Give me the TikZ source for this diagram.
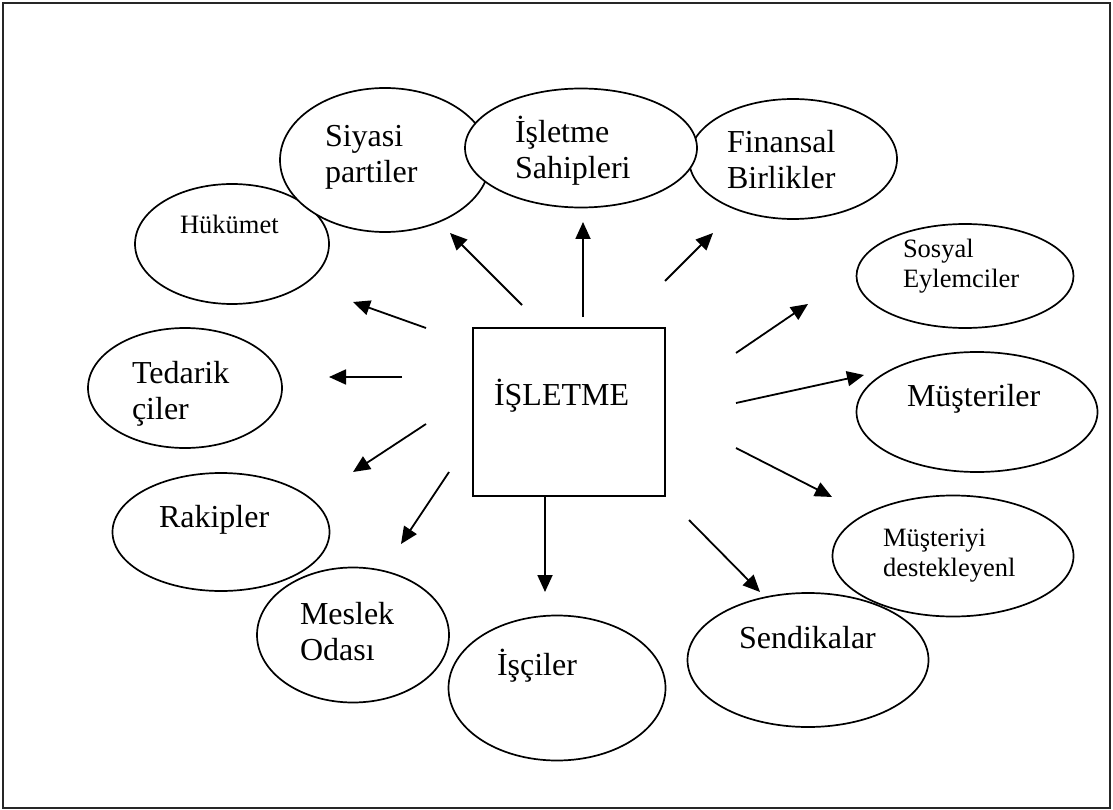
\documentclass[tikz,border=0pt]{standalone}
\usepackage{fontspec}
\setmainfont{Liberation Serif}
\usetikzlibrary{shapes.geometric,arrows.meta}

\newcommand{\bigtxt}{\fontsize{32}{36}\selectfont}
\newcommand{\smalltxt}{\fontsize{26.5}{30}\selectfont}
\newcommand{\twolines}[2]{\begin{tabular}[t]{@{}l@{}}#1\\#2\end{tabular}}

\tikzset{
  ell/.style={ellipse, draw=black, fill=white, line width=1.7pt, inner sep=0pt},
  lbl/.style={anchor=base west, inner sep=0pt, outer sep=0pt},
  arr/.style={line width=1.8pt, -{Triangle[length=17pt,width=15pt]}},
}

\begin{document}
\begin{tikzpicture}[x=1pt,y=-1pt]
\useasboundingbox (0,0) rectangle (1113,810);
% outer frame
\node[draw=black!85, line width=1.4pt, minimum width=1107pt, minimum height=805pt, inner sep=0pt] (frame) at (556.5,405.5) {};

% ellipses (later ones cover earlier ones)
\node[ell, minimum width=194pt, minimum height=120pt] (hukumet) at (232,244) {};
\node[ell, minimum width=210pt, minimum height=144pt] (siyasi) at (385,160) {};
\node[ell, minimum width=208pt, minimum height=120pt] (finans) at (793,159) {};
\node[ell, minimum width=232pt, minimum height=119pt] (sahip) at (581,148) {};
\node[ell, minimum width=194pt, minimum height=120pt] (tedarik) at (185,388) {};
\node[ell, minimum width=217pt, minimum height=118pt] (rakip) at (221,532) {};
\node[ell, minimum width=192pt, minimum height=135pt] (meslek) at (353,635) {};
\node[ell, minimum width=217pt, minimum height=145pt] (isci) at (557,688) {};
\node[ell, minimum width=241pt, minimum height=121pt] (destek) at (953,556) {};
\node[ell, minimum width=241pt, minimum height=134pt] (sendika) at (808,660) {};
\node[ell, minimum width=241pt, minimum height=120pt] (musteri) at (977,412) {};
\node[ell, minimum width=217pt, minimum height=104pt] (sosyal) at (965,276) {};

% central box
\node[draw=black, line width=1.7pt, minimum width=192pt, minimum height=168pt, inner sep=0pt] (isletme) at (569,412) {};

% labels
\node[lbl] (siyasiT) at (325,147) {\bigtxt\twolines{Siyasi}{partiler}};
\node[lbl] (sahipT) at (515,143) {\bigtxt\twolines{İşletme}{Sahipleri}};
\node[lbl] (finansT) at (727,153) {\bigtxt\twolines{Finansal}{Birlikler}};
\node[lbl] (hukumetT) at (180,234) {\smalltxt Hükümet};
\node[lbl] (tedarikT) at (132,383) {\bigtxt\twolines{Tedarik}{çiler}};
\node[lbl] (rakipT) at (159,527) {\bigtxt Rakipler};
\node[lbl] (isletmeT) at (494,405) {\bigtxt İŞLETME};
\node[lbl] (meslekT) at (300,624) {\bigtxt\twolines{Meslek}{Odası}};
\node[lbl] (isciT) at (497,675) {\bigtxt İşçiler};
\node[lbl] (sendikaT) at (739,648) {\bigtxt Sendikalar};
\node[lbl] (destekT) at (883,546) {\smalltxt\twolines{Müşteriyi}{destekleyenl}};
\node[lbl] (musteriT) at (907,406) {\bigtxt Müşteriler};
\node[lbl] (sosyalT) at (903,258) {\smalltxt\twolines{Sosyal}{Eylemciler}};

% arrow end points
\coordinate (s1) at (583,317);  \coordinate (t1) at (583,222);
\coordinate (s2) at (522,305);  \coordinate (t2) at (450,233);
\coordinate (s3) at (665,281);  \coordinate (t3) at (713,233);
\coordinate (s4) at (426,328);  \coordinate (t4) at (353,302);
\coordinate (s5) at (402,377);  \coordinate (t5) at (329,377);
\coordinate (s6) at (426,424);  \coordinate (t6) at (353,472);
\coordinate (s7) at (449,472);  \coordinate (t7) at (401,544);
\coordinate (s8) at (545,497);  \coordinate (t8) at (545,592);
\coordinate (s9) at (689,520);  \coordinate (t9) at (760,592);
\coordinate (s10) at (736,448); \coordinate (t10) at (832,497);
\coordinate (s11) at (736,403); \coordinate (t11) at (864,375);
\coordinate (s12) at (736,353); \coordinate (t12) at (808,304);

\foreach \i in {1,...,12}{
  \draw[arr] (s\i) -- (t\i);
}
\end{tikzpicture}
\end{document}
